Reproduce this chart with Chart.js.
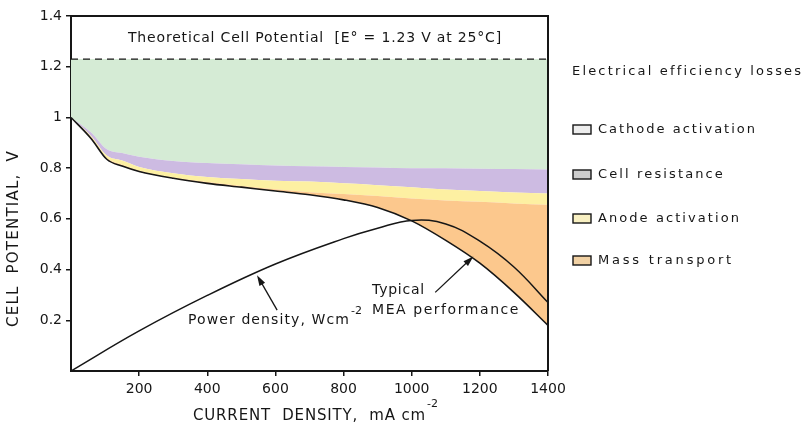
<!DOCTYPE html>
<html>
<head>
<meta charset="utf-8">
<script src="https://cdn.jsdelivr.net/npm/chart.js@4.4.0/dist/chart.umd.min.js"></script>
<style>
  html, body { margin: 0; padding: 0; background: #fff; }
  #wrap { width: 806px; height: 423px; }
</style>
</head>
<body>
<div id="wrap"><canvas id="chart" width="806" height="423"></canvas></div>
<script>
// current density, mA cm-2
const currentDensity = [0, 60, 105, 150, 200, 300, 400, 500, 600, 700, 800, 900, 1000, 1100, 1200, 1300, 1400];
// typical MEA performance, V
const cellPotential = [1.0, 0.915, 0.835, 0.808, 0.787, 0.76, 0.74, 0.725, 0.71, 0.695, 0.675, 0.645, 0.592, 0.515, 0.425, 0.31, 0.18];
// upper edges of the loss bands, V
const massTransportTop = [1.0, 0.92, 0.84, 0.813, 0.79, 0.763, 0.745, 0.73, 0.717, 0.705, 0.698, 0.69, 0.68, 0.672, 0.667, 0.661, 0.656];
const anodeActivationTop = [1.0, 0.925, 0.85, 0.83, 0.805, 0.78, 0.765, 0.757, 0.75, 0.747, 0.74, 0.733, 0.725, 0.716, 0.71, 0.704, 0.70];
const cellResistanceTop = [1.0, 0.94, 0.875, 0.86, 0.845, 0.828, 0.82, 0.815, 0.81, 0.807, 0.805, 0.803, 0.80, 0.80, 0.798, 0.797, 0.795];
// theoretical cell potential (dashed line)
const theoreticalCurrent = [0, 1400];
const theoreticalPotential = [1.23, 1.23];
// power density, W cm-2
const powerCurrent = [0, 200, 400, 600, 800, 900, 1000, 1100, 1200, 1300, 1400];
const powerDensity = [0, 0.158, 0.298, 0.422, 0.522, 0.563, 0.594, 0.58, 0.512, 0.41, 0.27];

const xTicks = [200, 400, 600, 800, 1000, 1200, 1400];
const yTicks = [0.2, 0.4, 0.6, 0.8, 1, 1.2, 1.4];

const lossLabels = ['Cathode activation', 'Cell resistance', 'Anode activation', 'Mass transport'];
const lossColors = ['#d5ebd5', '#cdbbe2', '#fdf0a2', '#fcc88d'];
const swatchColors = ['#ededed', '#cdcdcd', '#f8f0c2', '#f1d1a4'];

const INK = '#161616';
const FONT = '"DejaVu Sans", sans-serif';

const toPoints = (xs, ys) => xs.map((x, i) => ({ x: x, y: ys[i] }));

const band = (values, color) => ({
    data: toPoints(currentDensity, values),
    borderWidth: 0,
    pointRadius: 0,
    fill: '-1',
    backgroundColor: color,
    cubicInterpolationMode: 'monotone'
});

// text stretched to a given width with letter spacing
function spaced(ctx, text, x, y, width, font) {
    ctx.font = font;
    ctx.letterSpacing = '0px';
    const w = ctx.measureText(text).width;
    ctx.letterSpacing = ((width - w) / Math.max(1, text.length)) + 'px';
    ctx.fillText(text, x, y);
    ctx.letterSpacing = '0px';
}

function arrow(ctx, x1, y1, x2, y2) {
    const a = Math.atan2(y2 - y1, x2 - x1);
    ctx.beginPath();
    ctx.moveTo(x1, y1);
    ctx.lineTo(x2 - 6 * Math.cos(a), y2 - 6 * Math.sin(a));
    ctx.stroke();
    ctx.beginPath();
    ctx.moveTo(x2, y2);
    ctx.lineTo(x2 - 11 * Math.cos(a - 0.3), y2 - 11 * Math.sin(a - 0.3));
    ctx.lineTo(x2 - 11 * Math.cos(a + 0.3), y2 - 11 * Math.sin(a + 0.3));
    ctx.closePath();
    ctx.fill();
}

const decorations = {
    id: 'decorations',
    afterDraw(chart) {
        const ctx = chart.ctx;
        const area = chart.chartArea;
        const xs = chart.scales.x;
        const ys = chart.scales.y;
        ctx.save();
        ctx.fillStyle = INK;
        ctx.strokeStyle = INK;

        // top and right frame
        ctx.lineWidth = 2;
        ctx.beginPath();
        ctx.moveTo(area.left, area.top);
        ctx.lineTo(area.right, area.top);
        ctx.lineTo(area.right, area.bottom);
        ctx.stroke();

        ctx.textBaseline = 'middle';
        ctx.textAlign = 'left';

        spaced(ctx, 'Theoretical Cell Potential  [E° = 1.23 V at 25°C]', 128, 38, 374, '14px ' + FONT);

        // annotations
        spaced(ctx, 'Power density, Wcm', 188, 320, 162, '14px ' + FONT);
        ctx.font = '11px ' + FONT;
        ctx.fillText('-2', 351, 311);
        spaced(ctx, 'Typical', 372, 290, 53, '14px ' + FONT);
        spaced(ctx, 'MEA performance', 372, 310, 148, '14px ' + FONT);

        ctx.lineWidth = 1.3;
        arrow(ctx, xs.getPixelForValue(605), ys.getPixelForValue(0.24), xs.getPixelForValue(546), ys.getPixelForValue(0.378));
        arrow(ctx, xs.getPixelForValue(1069), ys.getPixelForValue(0.31), xs.getPixelForValue(1181), ys.getPixelForValue(0.452));

        // axis titles
        spaced(ctx, 'CURRENT  DENSITY,  mA cm', 193, 416, 233, '15px ' + FONT);
        ctx.font = '11px ' + FONT;
        ctx.fillText('-2', 427, 404);

        ctx.save();
        ctx.translate(14, 238);
        ctx.rotate(-Math.PI / 2);
        spaced(ctx, 'CELL  POTENTIAL,  V', -89, 0, 177, '15px ' + FONT);
        ctx.restore();

        // legend
        spaced(ctx, 'Electrical efficiency losses', 572, 72, 231, '13px ' + FONT);
        const rowY = [129, 174, 218, 260];
        const rowW = [159, 127, 143, 136];
        ctx.lineWidth = 1.4;
        lossLabels.forEach((label, i) => {
            ctx.fillStyle = swatchColors[i];
            ctx.fillRect(573, rowY[i] - 4, 18, 9);
            ctx.strokeRect(573, rowY[i] - 4, 18, 9);
            ctx.fillStyle = INK;
            spaced(ctx, label, 598, rowY[i] + 1, rowW[i], '13px ' + FONT);
        });
        ctx.restore();
    }
};

new Chart(document.getElementById('chart'), {
    type: 'line',
    data: {
        datasets: [
            {
                label: 'Power density',
                data: toPoints(powerCurrent, powerDensity),
                borderColor: INK,
                borderWidth: 1.5,
                pointRadius: 0,
                fill: false,
                tension: 0.4
            },
            {
                label: 'Typical MEA performance',
                data: toPoints(currentDensity, cellPotential),
                borderColor: INK,
                borderWidth: 1.6,
                pointRadius: 0,
                fill: false,
                cubicInterpolationMode: 'monotone'
            },
            band(massTransportTop, lossColors[3]),
            band(anodeActivationTop, lossColors[2]),
            band(cellResistanceTop, lossColors[1]),
            {
                label: 'Theoretical cell potential',
                data: toPoints(theoreticalCurrent, theoreticalPotential),
                borderColor: INK,
                borderWidth: 1.3,
                borderDash: [7, 5],
                pointRadius: 0,
                fill: '-1',
                backgroundColor: lossColors[0]
            }
        ]
    },
    options: {
        responsive: false,
        animation: false,
        devicePixelRatio: 1,
        layout: { padding: { top: 16, right: 258, left: 0, bottom: 0 } },
        plugins: {
            legend: { display: false },
            tooltip: { enabled: false }
        },
        scales: {
            x: {
                type: 'linear',
                min: 0,
                max: 1400,
                afterFit: s => { s.height = 52; },
                afterBuildTicks: s => { s.ticks = xTicks.map(v => ({ value: v })); },
                ticks: {
                    color: INK,
                    font: { family: FONT, size: 14 },
                    padding: 5,
                    maxRotation: 0,
                    callback: v => String(v)
                },
                grid: { drawOnChartArea: false, color: INK, tickLength: 5, lineWidth: 1.5 },
                border: { color: INK, width: 2 }
            },
            y: {
                min: 0,
                max: 1.4,
                afterFit: s => { s.width = 71; },
                afterBuildTicks: s => { s.ticks = yTicks.map(v => ({ value: v })); },
                ticks: {
                    color: INK,
                    font: { family: FONT, size: 14 },
                    padding: 4,
                    callback: v => String(+v.toFixed(1))
                },
                grid: { drawOnChartArea: false, color: INK, tickLength: 5, lineWidth: 1.5 },
                border: { color: INK, width: 2 }
            }
        }
    },
    plugins: [decorations]
});
</script>
</body>
</html>
